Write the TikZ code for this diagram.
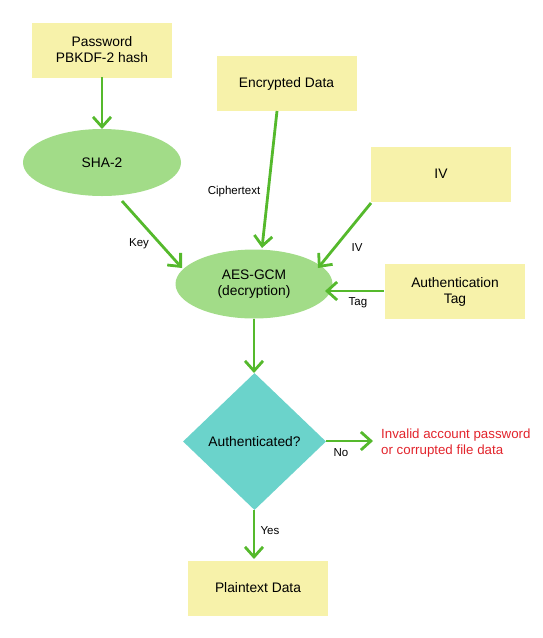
\documentclass[tikz,border=0pt]{standalone}
\usepackage{fontspec}
\setmainfont{Liberation Sans}
\usetikzlibrary{arrows.meta,shapes.geometric}
\definecolor{boxy}{HTML}{F7F2AA}
\definecolor{ellg}{HTML}{A2DC88}
\definecolor{diac}{HTML}{6BD3CB}
\definecolor{arrg}{HTML}{55B92C}
\definecolor{redt}{HTML}{E2242C}
\begin{document}
\begin{tikzpicture}[x=1pt,y=-1pt,
  box/.style={fill=boxy,draw=none,minimum width=140pt,minimum height=55pt,align=center,font=\fontsize{13.8}{16}\selectfont,inner sep=0pt},
  ell/.style={ellipse,fill=ellg,draw=none,minimum width=158pt,minimum height=67pt,align=center,font=\fontsize{13.8}{16}\selectfont,inner sep=0pt},
  dia/.style={diamond,fill=diac,draw=none,minimum width=143pt,minimum height=137pt,font=\fontsize{13.8}{16}\selectfont,inner sep=0pt},
  conn/.style={draw=arrg,line width=2.8pt,-{Straight Barb[length=10pt,width=18pt,line width=2.8pt]}},
  lab/.style={font=\fontsize{11.5}{14}\selectfont,inner sep=0pt}
]
\useasboundingbox (0,0) rectangle (542,638);
\node[box] (pw) at (102,50) {Password\\PBKDF-2 hash};
\node[box] (enc) at (286.5,83.5) {Encrypted Data};
\node[ell] (sha) at (102,162.5) {SHA-2};
\node[box] (iv) at (441,174) {IV};
\node[ell,minimum width=157pt,minimum height=69pt] (aes) at (254,284) {AES-GCM\\(decryption)};
\node[box] (tag) at (455,291.5) {Authentication\\Tag};
\node[dia] (auth) at (254.5,441.5) {Authenticated?};
\node[font=\fontsize{13.3}{16}\selectfont,text=redt,align=left,anchor=west,inner sep=0pt] (inv) at (381,443) {Invalid account password\\or corrupted file data};
\node[box] (pt) at (258,588) {Plaintext Data};

\coordinate (pwb) at (102,77);
\coordinate (shat) at (102,129);
\draw[conn] (pwb) -- (shat);
\coordinate (shab) at (122,201);
\coordinate (aesk) at (182,268);
\draw[conn] (shab) -- (aesk);
\coordinate (encb) at (277,111);
\coordinate (aesc) at (262,248);
\draw[conn] (encb) -- (aesc);
\coordinate (ivb) at (371,203);
\coordinate (aesiv) at (318,268);
\draw[conn] (ivb) -- (aesiv);
\coordinate (tagw) at (384,291);
\coordinate (aest) at (325,291);
\draw[conn] (tagw) -- (aest);
\coordinate (aesb) at (254,319);
\coordinate (autht) at (254,373);
\draw[conn] (aesb) -- (autht);
\coordinate (authr) at (326,441);
\coordinate (invl) at (373,441);
\draw[conn] (authr) -- (invl);
\coordinate (authb) at (254,510);
\coordinate (ptt) at (254,559);
\draw[conn] (authb) -- (ptt);

\node[lab] (lkey) at (139,244) {Key};
\node[lab] (lct) at (234,192) {Ciphertext};
\node[lab] (liv) at (357,248) {IV};
\node[lab] (ltag) at (358,303) {Tag};
\node[lab] (lno) at (341,453) {No};
\node[lab] (lyes) at (270,531) {Yes};
\end{tikzpicture}
\end{document}
